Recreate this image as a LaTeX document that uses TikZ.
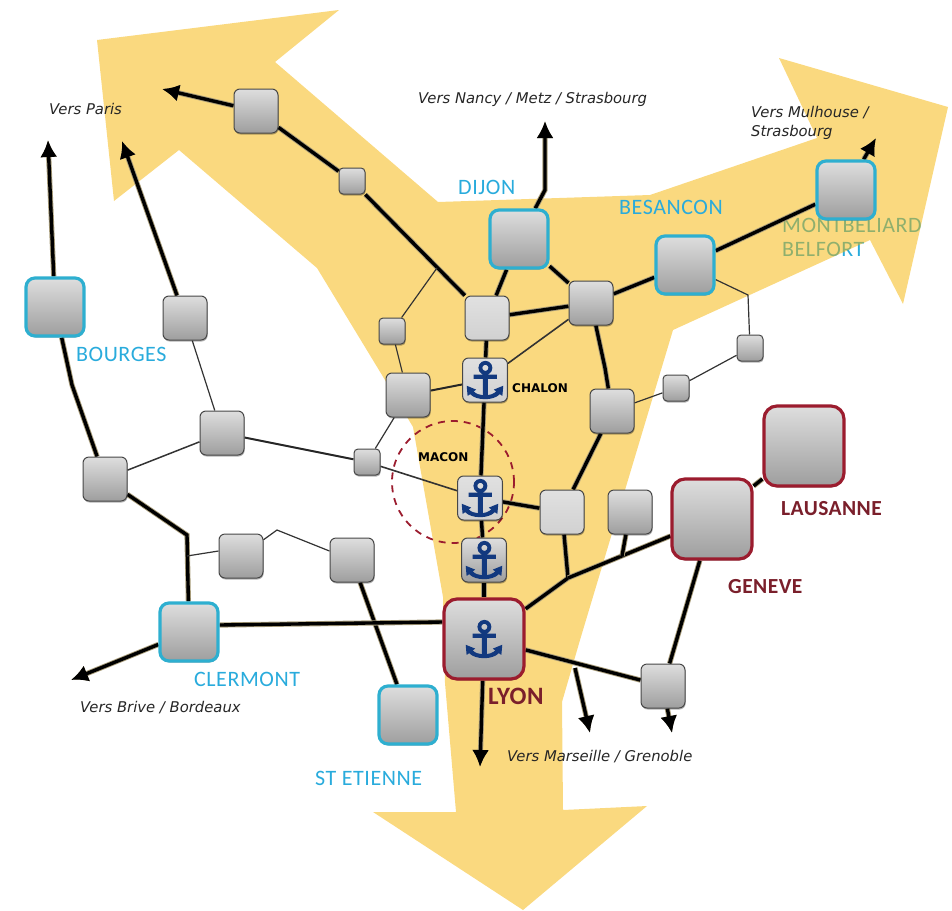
\documentclass[tikz,border=0pt]{standalone}
\usepackage{fontspec}
\setmainfont{Carlito}
\newfontfamily\cityfont[LetterSpace=2.5]{Carlito}
\newfontfamily\rcityfont[LetterSpace=2]{Carlito}
\newfontfamily\itfont{DejaVu Sans}
\newfontfamily\anchorfont[FakeBold=2.5]{DejaVu Sans}
\newfontfamily\smallfont{DejaVu Sans}
\usetikzlibrary{arrows.meta,shadows,calc}
\pgfdeclarelayer{base}
\pgfdeclarelayer{roads}
\pgfsetlayers{base,roads,main}
\definecolor{cyanb}{HTML}{2EAFD0}
\definecolor{cyant}{HTML}{29ABDC}
\definecolor{redb}{HTML}{9B1C2E}
\definecolor{redt}{HTML}{7A1F2B}
\definecolor{navy}{HTML}{12397F}
\definecolor{sun}{HTML}{F5B300}
\definecolor{edgetan}{HTML}{A89C7A}
\tikzset{
  x=1pt,y=-1pt,
  box/.style={rounded corners=5pt,inner sep=0pt,top color=black!13,bottom color=black!38,draw=black!72,line width=1pt,
    drop shadow={shadow xshift=0.6pt,shadow yshift=-1.5pt,opacity=.3,fill=black}},
  sbox/.style={box,minimum size=26pt,rounded corners=4pt},
  mbox/.style={box,minimum size=44pt,rounded corners=6pt},
  pale/.style={top color=black!12,bottom color=black!18},
  cbox/.style={box,minimum size=58pt,rounded corners=9pt,draw=cyanb,line width=3.2pt},
  rbox/.style={box,minimum size=80pt,rounded corners=13pt,draw=redb,line width=3.2pt},
  anchored/.style={text=navy,font=\anchorfont\fontsize{50}{50}\selectfont},
  road/.style={draw=black,line width=3.4pt,preaction={draw=edgetan,line width=5.2pt}},
  tip/.style={-{Latex[length=17pt,width=17pt]}},
  thin road/.style={draw=black!80,line width=1.2pt},
  mid road/.style={draw=black!85,line width=2pt},
  city/.style={text=cyant,font=\cityfont\fontsize{22}{24}\selectfont,anchor=west,inner sep=0pt},
  rcity/.style={text=redt,font=\rcityfont\bfseries\fontsize{21.5}{24}\selectfont,anchor=west,inner sep=0pt},
  via/.style={font=\itfont\itshape\fontsize{14.8}{19}\selectfont,anchor=west,inner sep=0pt,text=black!85},
  port/.style={font=\smallfont\bfseries\fontsize{12}{12}\selectfont,anchor=west,inner sep=0pt}
}
\begin{document}
\begin{tikzpicture}
\useasboundingbox (0,0) rectangle (952,910);
% nodes
\node[mbox] (n1) at (256,111) {};
\node[sbox] (n2) at (352,181) {};
\node[cbox] (dijon) at (519,239) {};
\node[cbox] (besancon) at (685,265) {};
\node[cbox] (belfort) at (846,190) {};
\node[mbox] (n3) at (591,303) {};
\node[mbox,pale] (n4) at (487,318) {};
\node[sbox] (n5) at (392,331) {};
\node[mbox] (n6) at (408,395) {};
\node[mbox,pale,anchored] (chalon) at (485,380) {⚓};
\node[mbox] (n7) at (612,411) {};
\node[sbox] (n8) at (676,388) {};
\node[sbox] (n9) at (750,348) {};
\node[cbox] (bourges) at (55,307) {};
\node[mbox] (n10) at (185,318) {};
\node[mbox] (n11) at (222,433) {};
\node[mbox] (n12) at (105,479) {};
\node[sbox] (n13) at (367,462) {};
\node[mbox,pale,anchored] (macon) at (480,498) {⚓};
\node[mbox,pale] (n14) at (562,512) {};
\node[mbox] (n15) at (630,512) {};
\node[mbox,anchored] (n16) at (484,560) {⚓};
\node[rbox] (geneve) at (712,519) {};
\node[rbox] (lausanne) at (804,446) {};
\node[mbox] (n17) at (241,556) {};
\node[mbox] (n18) at (352,560) {};
\node[cbox] (clermont) at (189,632) {};
\node[rbox,anchored] (lyon) at (484,639) {⚓};
\node[cbox] (etienne) at (408,715) {};
\node[mbox] (n19) at (663,686) {};
% labels
\node[city] (lbourges) at (76,354) {BOURGES};
\node[city] (ldijon) at (458,187) {DIJON};
\node[city] (lbesancon) at (619,207) {BESANCON};
\node[city] (lclermont) at (194,679) {CLERMONT};
\node[city] (letienne) at (315,778) {ST ETIENNE};
\node[rcity] (llausanne) at (781,509) {LAUSANNE};
\node[rcity] (lgeneve) at (728,587) {GENEVE};
\node[rcity,font=\rcityfont\bfseries\fontsize{25}{26}\selectfont] (llyon) at (488,696) {LYON};
\node[port] (lchalon) at (512,388) {CHALON};
\node[port] (lmacon) at (418,457) {MACON};
\node[via] (v1) at (49,109) {Vers Paris};
\node[via] (v2) at (418,99) {Vers Nancy / Metz / Strasbourg};
\node[via,align=left] (v3) at (751,123) {Vers Mulhouse /\\Strasbourg};
\node[via] (v4) at (80,708) {Vers Brive / Bordeaux};
\node[via] (v5) at (507,757) {Vers Marseille / Grenoble};
% yellow star and the label it covers
\begin{pgfonlayer}{base}
\node[city,align=left] (lbelfort) at (782,237) {MONTBELIARD\\BELFORT};
\fill[sun,opacity=.5] (97,40) -- (339,10) -- (275,62) -- (438,202) -- (650,195) -- (817,138) -- (779,58) -- (948,107)
  -- (903,304) -- (870,240) -- (673,330) -- (580,640) -- (562,702) -- (563,810) -- (647,806) -- (523,910) -- (373,812) -- (456,812)
  -- (445,683) -- (443,597) -- (413,427) -- (385,380) -- (317,268) -- (179,150) -- (114,201) -- cycle;
\end{pgfonlayer}
% connectors
\begin{pgfonlayer}{roads}
\node[draw=redb,line width=1.8pt,dash pattern=on 7pt off 6pt,circle,minimum size=122pt,inner sep=0pt] (ring) at (453,482) {};
\coordinate (aParis) at (162,89);
\coordinate (aParis2) at (122,141);
\coordinate (aParis3) at (48,140);
\coordinate (aNancy) at (545,121);
\coordinate (bNancy) at (545,190);
\coordinate (aMulh) at (876,138);
\coordinate (aBrive) at (71,680);
\coordinate (aSouth) at (480,767);
\coordinate (aMars) at (590,733);
\coordinate (jMars) at (575,668);
\coordinate (aGren) at (672,733);
\coordinate (bBourges) at (72,385);
\coordinate (bClerm) at (187,535);
\coordinate (jClerm) at (187,556);
\coordinate (bTop) at (277,530);
\coordinate (j1) at (437,268);
\coordinate (b1) at (605,368);
\coordinate (b2) at (568,578);
\coordinate (j2) at (622,556);
\coordinate (b3) at (748,295);
\draw[road,tip] (n1) -- (aParis);
\draw[road] (n1) -- (n2);
\draw[road] (n2) -- (n4);
\draw[thin road] (j1) -- (n5);
\draw[thin road] (n5) -- (n6);
\draw[road] (n4) -- (dijon);
\draw[road] (dijon) -- (n3);
\draw[road,tip] (dijon) -- (bNancy) -- (aNancy);
\draw[road] (n4) -- (n3);
\draw[road] (n3) -- (besancon);
\draw[road] (besancon) -- (belfort);
\draw[road,tip] (belfort) -- (aMulh);
\draw[thin road,line width=1.6pt] (n3) -- (chalon);
\draw[road] (n3) -- (b1) -- (n7);
\draw[road] (n4) -- (chalon);
\draw[mid road] (n6) -- (chalon);
\draw[thin road] (n6) -- (n13);
\draw[road] (chalon) -- (macon);
\draw[road] (macon) -- (n16);
\draw[road] (n16) -- (lyon);
\draw[road,tip] (lyon) -- (aSouth);
\draw[thin road,line width=1.6pt] (n13) -- (macon);
\draw[mid road] (n11) -- (n13);
\draw[thin road,line width=1.5pt] (n12) -- (n11);
\draw[thin road] (n10) -- (n11);
\draw[road,tip] (n10) -- (aParis2);
\draw[road,tip] (bourges) -- (aParis3);
\draw[road] (bourges) -- (bBourges) -- (n12);
\draw[road] (n12) -- (bClerm) -- (clermont);
\draw[thin road] (jClerm) -- ($(n17.west)+(0,-5)$);
\draw[thin road] (n17) -- (bTop) -- (n18);
\draw[road] (n18) -- (etienne);
\draw[road] ($(clermont.east)+(0,-7)$) -- ($(lyon.west)+(0,-17)$);
\draw[road,tip] (clermont) -- (aBrive);
\draw[road] (macon) -- (n14);
\draw[road] (n14) -- (b2) -- (lyon);
\draw[road] (n7) -- (n14);
\draw[road] (b2) -- (geneve);
\draw[road] (n15) -- (j2);
\draw[road] (geneve) -- (lausanne);
\draw[road] (geneve) -- (n19);
\draw[road,tip] (n19) -- (aGren);
\draw[road] (lyon) -- (n19);
\draw[road,tip] (jMars) -- (aMars);
\draw[thin road] (n7) -- (n8);
\draw[thin road] (n8) -- (n9);
\draw[thin road] (n9) -- (b3) -- (besancon);
\end{pgfonlayer}
\end{tikzpicture}
\end{document}
